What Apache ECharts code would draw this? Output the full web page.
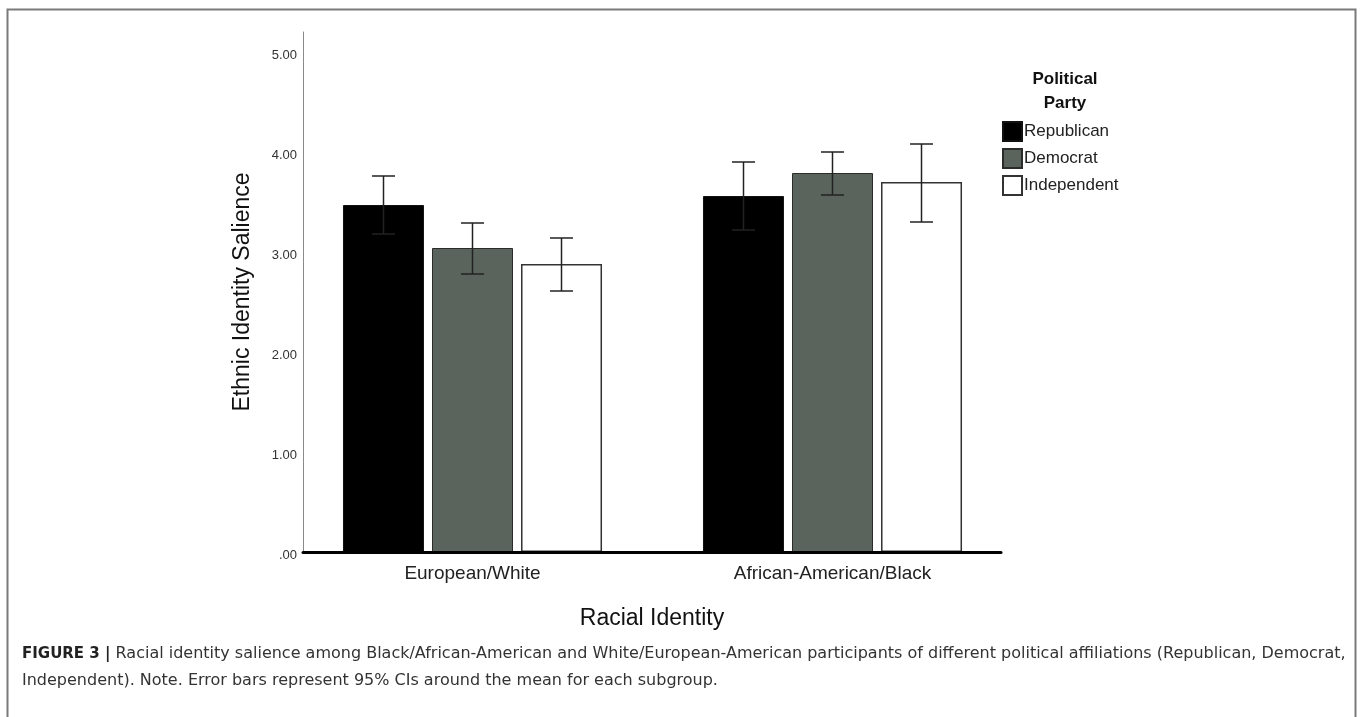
<!DOCTYPE html>
<html>
<head>
<meta charset="utf-8">
<script src="https://cdn.jsdelivr.net/npm/echarts@6/dist/echarts.min.js"></script>
<style>
html,body{margin:0;padding:0;background:#fff;}
#chart{width:1360px;height:717px;}
</style>
</head>
<body>
<div id="chart"></div>
<script>
// ---- data ----
const categories = ['European/White', 'African-American/Black'];
const parties = ['Republican', 'Democrat', 'Independent'];
const republican = [3.47, 3.56];
const democrat = [3.04, 3.79];
const independent = [2.88, 3.70];
const republicanLow = [3.18, 3.22];
const republicanHigh = [3.76, 3.90];
const democratLow = [2.78, 3.57];
const democratHigh = [3.29, 4.00];
const independentLow = [2.61, 3.30];
const independentHigh = [3.14, 4.08];
const yTickLabels = ['.00', '1.00', '2.00', '3.00', '4.00', '5.00'];

const xTitle = 'Racial Identity';
const yTitle = 'Ethnic Identity Salience';
const legendTitle = 'Political\nParty';
const captionBold = 'FIGURE 3 |';
const captionLine1 = ' Racial identity salience among Black/African-American and White/European-American participants of different political affiliations (Republican, Democrat,';
const captionLine2 = 'Independent). Note. Error bars represent 95% CIs around the mean for each subgroup.';

// ---- styles ----
const FONT = 'Liberation Sans, Arial, sans-serif';
const CAPTION_FONT = 'DejaVu Sans, Liberation Sans, sans-serif';
const BAR_W = 81;
const BAR_GAP_PX = 8;
const barStyles = [
  { color: '#000000', borderColor: '#111111', borderWidth: 1 },
  { color: '#5b635d', borderColor: '#2b2b2b', borderWidth: 1 },
  { color: '#ffffff', borderColor: '#333333', borderWidth: 1.5 }
];
const values = [republican, democrat, independent];
const lows = [republicanLow, democratLow, independentLow];
const highs = [republicanHigh, democratHigh, independentHigh];

const barSeries = parties.map((p, i) => ({
  name: p,
  type: 'bar',
  xAxisIndex: 1,
  yAxisIndex: 1,
  barWidth: BAR_W,
  barGap: (BAR_GAP_PX / BAR_W * 100).toFixed(1) + '%',
  itemStyle: barStyles[i],
  emphasis: { disabled: true },
  data: values[i],
  z: 2
}));

const errSeries = parties.map((p, i) => ({
  name: 'err-' + p,
  type: 'custom',
  xAxisIndex: 1,
  yAxisIndex: 1,
  z: 5,
  silent: true,
  data: categories.map((c, k) => [k, lows[i][k], highs[i][k]]),
  renderItem: function (params, api) {
    const k = api.value(0);
    const offset = (i - 1) * (BAR_W + BAR_GAP_PX);
    const lo = api.coord([k, api.value(1)]);
    const hi = api.coord([k, api.value(2)]);
    const x = lo[0] + offset;
    const cap = 11.5;
    const style = { stroke: '#222222', lineWidth: 1.5, fill: null };
    return {
      type: 'group',
      children: [
        { type: 'line', shape: { x1: x, y1: lo[1], x2: x, y2: hi[1] }, style: style },
        { type: 'line', shape: { x1: x - cap, y1: hi[1], x2: x + cap, y2: hi[1] }, style: style },
        { type: 'line', shape: { x1: x - cap, y1: lo[1], x2: x + cap, y2: lo[1] }, style: style }
      ]
    };
  }
}));

const chart = echarts.init(document.getElementById('chart'), null, { renderer: 'canvas' });
chart.setOption({
  backgroundColor: '#ffffff',
  animation: false,
  textStyle: { fontFamily: FONT },
  title: {
    text: legendTitle,
    left: 1060,
    top: 62,
    textAlign: 'center',
    textStyle: { fontSize: 17, fontWeight: 'bold', color: '#111', lineHeight: 24, fontFamily: FONT, align: 'center' }
  },
  legend: {
    data: parties,
    orient: 'vertical',
    left: 1002,
    top: 121,
    icon: 'rect',
    itemWidth: 19,
    itemHeight: 19,
    itemGap: 6,
    padding: 0,
    selectedMode: false,
    textStyle: { fontSize: 17, color: '#222', fontFamily: FONT, padding: [0, 0, 0, -3] }
  },
  grid: [
    { left: 303, top: 32, width: 698, height: 520 },
    { left: 292.5, top: 32, width: 720, height: 520 }
  ],
  xAxis: [
    {
      type: 'category',
      gridIndex: 0,
      data: categories,
      z: 10,
      axisLine: { show: true, lineStyle: { color: '#000', width: 3 } },
      axisTick: { show: false },
      axisLabel: { show: false },
      name: xTitle,
      nameLocation: 'middle',
      nameGap: 55,
      nameTextStyle: { fontSize: 23, color: '#111', fontFamily: FONT }
    },
    {
      type: 'category',
      gridIndex: 1,
      data: categories,
      axisLine: { show: false },
      axisTick: { show: false },
      axisLabel: { show: true, fontSize: 19, color: '#222', margin: 12, fontFamily: FONT }
    }
  ],
  yAxis: [
    {
      type: 'value',
      gridIndex: 0,
      min: 0,
      max: 5.2,
      interval: 1,
      splitLine: { show: false },
      axisTick: { show: false },
      axisLine: { show: true, lineStyle: { color: '#8a8a8a', width: 1 } },
      axisLabel: {
        show: true,
        showMaxLabel: false,
        margin: 6,
        formatter: function (v) {
          const idx = Math.round(v);
          return (Math.abs(v - idx) < 1e-6 && yTickLabels[idx] !== undefined) ? '{t|' + yTickLabels[idx] + '}' : '';
        },
        rich: {
          t: { fontSize: 13, color: '#333', fontFamily: FONT, padding: [7, 0, 0, 0] }
        }
      },
      name: yTitle,
      nameLocation: 'middle',
      nameRotate: 90,
      nameGap: 49,
      nameTextStyle: { fontSize: 23, color: '#111', fontFamily: FONT }
    },
    {
      type: 'value',
      gridIndex: 1,
      min: 0,
      max: 5.2,
      show: false,
      splitLine: { show: false }
    }
  ],
  series: barSeries.concat(errSeries),
  graphic: [
    {
      type: 'rect',
      shape: { x: 7.5, y: 9.5, width: 1348, height: 730 },
      style: { fill: null, stroke: '#7a7a7a', lineWidth: 2 },
      silent: true,
      z: 100
    },
    {
      type: 'text',
      left: 22,
      top: 646,
      silent: true,
      style: {
        text: '{b|' + captionBold + '}{n|' + captionLine1 + '}\n{n|' + captionLine2 + '}',
        rich: {
          b: { fontSize: 15, fontWeight: 'bold', fill: '#222', fontFamily: CAPTION_FONT, lineHeight: 27 },
          n: { fontSize: 16, fill: '#333', fontFamily: CAPTION_FONT, lineHeight: 27 }
        }
      }
    }
  ]
});
</script>
</body>
</html>
